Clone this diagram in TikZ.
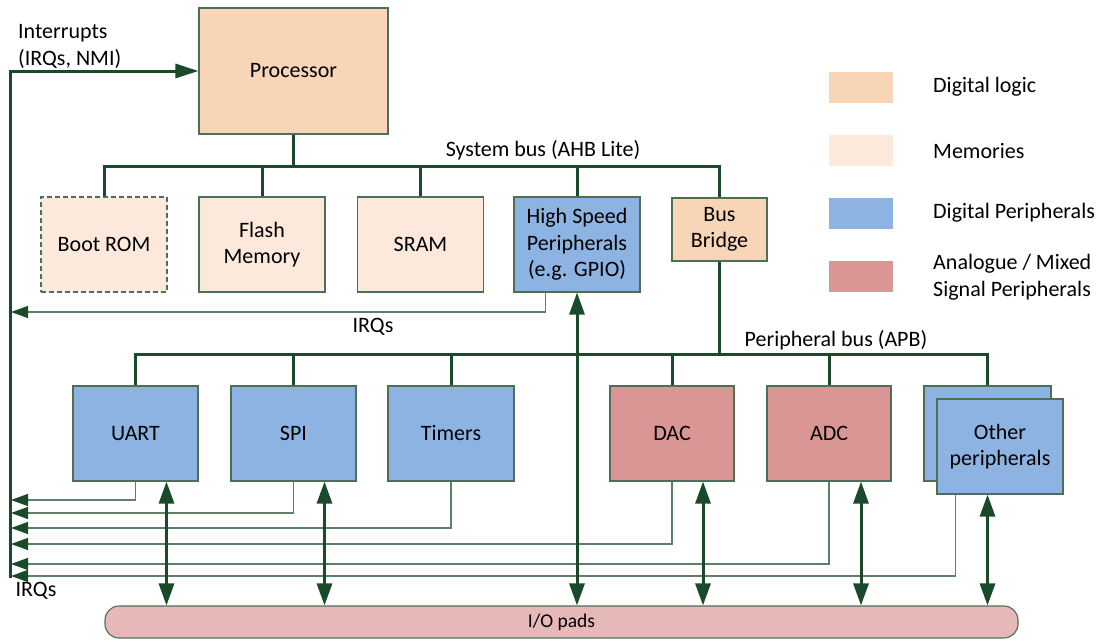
\documentclass[tikz,border=0pt]{standalone}
\usepackage{fontspec}
\setmainfont{Carlito}
\usetikzlibrary{arrows.meta,calc}
\definecolor{logic}{HTML}{F9D5B7}
\definecolor{memc}{HTML}{FCE9DB}
\definecolor{digc}{HTML}{8DB3E2}
\definecolor{anac}{HTML}{D99694}
\definecolor{padc}{HTML}{E6B9B8}
\definecolor{dkgreen}{HTML}{1B4A2A}
\definecolor{bordc}{HTML}{4E6E58}
\definecolor{irqc}{HTML}{5F8068}
\begin{document}
\begin{tikzpicture}[x=1pt,y=-1pt,
  font=\fontsize{22}{26.5}\selectfont,
  blk/.style={draw=bordc, line width=1.1pt, inner sep=0pt, align=center, minimum width=126pt, minimum height=95pt, text=black},
  swatch/.style={inner sep=0pt, minimum width=64pt, minimum height=31pt},
  lbl/.style={inner sep=0pt, align=left},
  bus/.style={draw=dkgreen, line width=3pt},
  irq/.style={draw=irqc, line width=1.3pt, -{Triangle[length=17pt,width=12pt,color=dkgreen]}},
  bidir/.style={draw=dkgreen, line width=3pt, {Triangle[length=22pt,width=15pt]}-{Triangle[length=22pt,width=15pt]}}
]
\useasboundingbox (0,0) rectangle (1105,640);

% blocks
\node[blk, fill=logic, minimum width=189pt, minimum height=126pt] (proc) at (293.5,71) {Processor};
\node[blk, fill=memc, dash pattern=on 5pt off 3pt] (boot) at (104,244.5) {Boot ROM};
\node[blk, fill=memc] (flash) at (262,244.5) {Flash\\Memory};
\node[blk, fill=memc] (sram) at (420.5,244.5) {SRAM};
\node[blk, fill=digc] (hsp) at (577,244.5) {High Speed\\Peripherals\\(e.g. GPIO)};
\node[blk, fill=logic, minimum width=95pt, minimum height=63pt] (bridge) at (719.5,229.5) {Bus\\Bridge};

\node[blk, fill=digc, minimum width=125pt] (uart) at (135.5,433.5) {UART};
\node[blk, fill=digc, minimum width=125pt] (spi) at (293.5,433.5) {SPI};
\node[blk, fill=digc] (timers) at (451,433.5) {Timers};
\node[blk, fill=anac, minimum width=124pt] (dac) at (672,433.5) {DAC};
\node[blk, fill=anac, minimum width=124pt] (adc) at (829,433.5) {ADC};
\node[blk, fill=digc, minimum width=127pt] (othb) at (987.5,433.5) {};
\node[blk, fill=digc] (othf) at (1000,446.5) {Other\\peripherals};

\node[draw=bordc, line width=1.1pt, fill=padc, rounded corners=14pt, minimum width=913pt, minimum height=32pt, inner sep=0pt, font=\fontsize{19.5}{24}\selectfont] (pads) at (561.5,622) {I/O pads};

% buses
\coordinate (sb) at (0,166);
\coordinate (pb) at (0,354);
\draw[bus] (boot.north) -- (boot.north |- sb) -- (bridge.north |- sb) -- (bridge.north);
\draw[bus] (proc.south) -- (proc.south |- sb);
\draw[bus] (flash.north) -- (flash.north |- sb);
\draw[bus] (sram.north) -- (sram.north |- sb);
\draw[bus] (hsp.north) -- (hsp.north |- sb);

\draw[bus] (uart.north) -- (uart.north |- pb) -- (othb.north |- pb) -- (othb.north);
\draw[bus] (bridge.south) -- (bridge.south |- pb);
\draw[bus] (spi.north) -- (spi.north |- pb);
\draw[bus] (timers.north) -- (timers.north |- pb);
\draw[bus] (dac.north) -- (dac.north |- pb);
\draw[bus] (adc.north) -- (adc.north |- pb);

% interrupt line to processor
\coordinate (ibot) at (10,577.5);
\draw[bus, -{Triangle[length=23pt,width=14pt]}] (ibot) -- (ibot |- proc.west) -- (proc.west);

% IRQ lines
\coordinate (i0) at (11,312);
\coordinate (i1) at (11,500);
\coordinate (i2) at (11,513);
\coordinate (i3) at (11,528);
\coordinate (i4) at (11,544);
\coordinate (i5) at (11,564);
\coordinate (i6) at (11,576);
\draw[irq] ([xshift=32pt]hsp.south west) |- (i0);
\draw[irq] (uart.south) |- (i1);
\draw[irq] (spi.south) |- (i2);
\draw[irq] (timers.south) |- (i3);
\draw[irq] (dac.south) |- (i4);
\draw[irq] (adc.south) |- (i5);
\draw[irq] ([xshift=19pt]othf.south west) |- (i6);

% I/O arrows
\draw[bidir] ([xshift=31pt]uart.south) -- ([xshift=31pt]uart.south |- pads.north);
\draw[bidir] ([xshift=31pt]spi.south) -- ([xshift=31pt]spi.south |- pads.north);
\draw[bidir] (hsp.south) -- (hsp.south |- pads.north);
\draw[bidir] ([xshift=31pt]dac.south) -- ([xshift=31pt]dac.south |- pads.north);
\draw[bidir] ([xshift=32pt]adc.south) -- ([xshift=32pt]adc.south |- pads.north);
\draw[bidir] (othb.south |- othf.south) -- (othb.south |- pads.north);

% labels
\node[lbl, anchor=west] (intl) at (18,46.5) {Interrupts\\(IRQs, NMI)};
\node[lbl] (sysl) at (543,150) {System bus (AHB Lite)};
\node[lbl] (perl) at (836,340) {Peripheral bus (APB)};
\node[lbl] (irql) at (373,327) {IRQs};
\node[lbl] (irqb) at (36,591) {IRQs};

% legend
\node[swatch, fill=logic] (lg1) at (861,87.5) {};
\node[swatch, fill=memc] (lg2) at (861,150.5) {};
\node[swatch, fill=digc] (lg3) at (861,213.5) {};
\node[swatch, fill=anac] (lg4) at (861,276.5) {};
\node[lbl, anchor=west] (lt1) at (933,87) {Digital logic};
\node[lbl, anchor=west] (lt2) at (933,151) {Memories};
\node[lbl, anchor=west] (lt3) at (933,213) {Digital Peripherals};
\node[lbl, anchor=west] (lt4) at (933,277) {Analogue / Mixed\\Signal Peripherals};
\end{tikzpicture}
\end{document}
